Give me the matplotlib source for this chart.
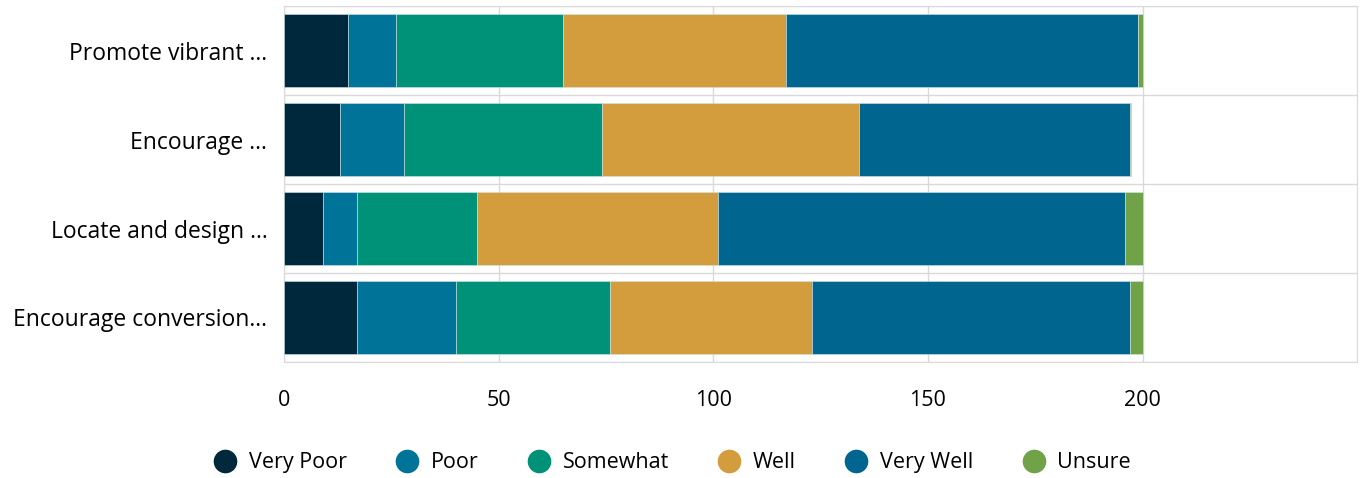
import numpy as np
import matplotlib.pyplot as plt
from matplotlib.lines import Line2D

plt.rcParams['font.family'] = ['Open Sans', 'DejaVu Sans']

# Survey responses per goal
goals = ['Promote vibrant ...', 'Encourage ...', 'Locate and design ...', 'Encourage conversion...']
very_poor = [15, 13, 9, 17]
poor = [11, 15, 8, 23]
somewhat = [39, 46, 28, 36]
well = [52, 60, 56, 47]
very_well = [82, 63, 95, 74]
unsure = [1, 0.3, 4, 3]

labels = ['Very Poor', 'Poor', 'Somewhat', 'Well', 'Very Well', 'Unsure']
colors = ['#00283C', '#007398', '#009278', '#D39C3D', '#00658F', '#70A348']
series = [very_poor, poor, somewhat, well, very_well, unsure]

fig = plt.figure(figsize=(13.62, 4.78), dpi=100)
ax = fig.add_axes([0.2085, 0.2427, 0.788, 0.7447])

y = np.arange(len(goals))
left = np.zeros(len(goals))
for vals, col in zip(series, colors):
    ax.barh(y, vals, left=left, height=0.82, color=col, edgecolor='#cfe3ea', linewidth=0.4, zorder=3)
    left += np.array(vals)

ax.set_xlim(0, 250)
ax.set_ylim(len(goals) - 0.5, -0.5)
ax.set_xticks([0, 50, 100, 150, 200])
ax.set_yticks(y)
ax.set_yticklabels(goals, fontsize=16.5)
ax.set_yticks(np.arange(len(goals) + 1) - 0.5, minor=True)
ax.tick_params(axis='x', labelsize=15.5, length=0, pad=20)
ax.tick_params(axis='y', which='both', length=0, pad=12)
ax.grid(axis='x', color='#d9d9d9', linewidth=1, zorder=0)
ax.grid(axis='y', which='minor', color='#d9d9d9', linewidth=1, zorder=0)
ax.grid(axis='y', which='major', visible=False)
for s in ax.spines.values():
    s.set_color('#d9d9d9')

handles = [Line2D([], [], marker='o', linestyle='', markersize=16, color=c) for c in colors]
fig.legend(handles, labels, loc='center', bbox_to_anchor=(0.49, 0.032), ncol=6, frameon=False,
           fontsize=15.5, handletextpad=0.1, columnspacing=1.8)

fig.savefig('out.png', dpi=100)
